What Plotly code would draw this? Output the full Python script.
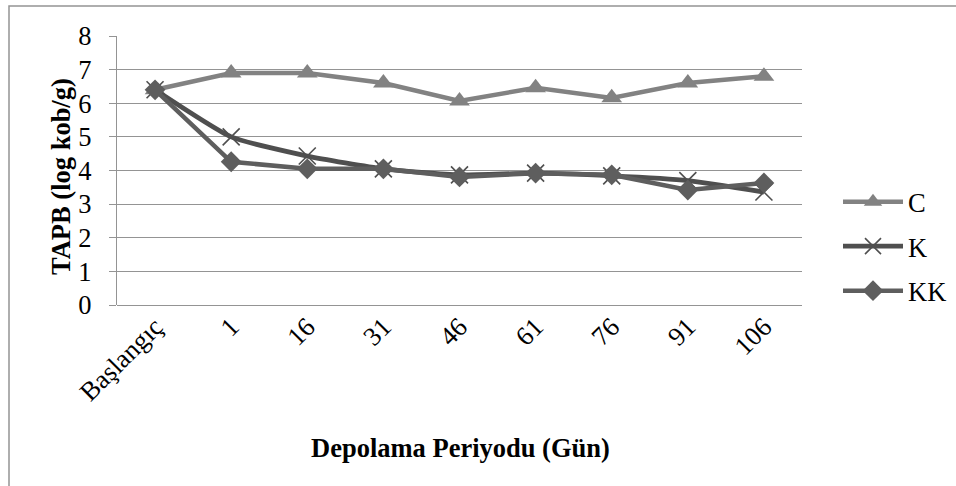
import plotly.graph_objects as go

categories = ["Başlangıç", "1", "16", "31", "46", "61", "76", "91", "106"]
C = [6.4, 6.9, 6.9, 6.6, 6.07, 6.46, 6.16, 6.6, 6.8]
K = [6.4, 5.0, 4.43, 4.05, 3.87, 3.92, 3.84, 3.7, 3.36]
KK = [6.4, 4.26, 4.05, 4.05, 3.81, 3.92, 3.87, 3.42, 3.63]
y_ticks = [0, 1, 2, 3, 4, 5, 6, 7, 8]

W, H = 956, 486
L, R, T, B = 117, 154, 36, 181
pw, ph = W - L - R, H - T - B

def px_x(x):
    return (x - L) / pw

def px_y(y):
    return (H - B - y) / ph

FONT = "Liberation Serif"
FS = 26.5

fig = go.Figure()
fig.add_trace(go.Scatter(
    x=categories, y=C, name="C", mode="lines+markers",
    line=dict(color="#828282", width=4.5),
    marker=dict(symbol="triangle-up", size=18, color="#828282"),
    legendgroup="a"))
fig.add_trace(go.Scatter(
    x=categories, y=K, name="K", mode="lines+markers",
    line=dict(color="#4f4f4f", width=4.8, shape="spline", smoothing=0.5),
    marker=dict(symbol="x-thin", size=17, color="#4f4f4f",
                line=dict(color="#4f4f4f", width=1.6)),
    legendgroup="b"))
fig.add_trace(go.Scatter(
    x=categories, y=KK, name="KK", mode="lines+markers",
    line=dict(color="#5e5e5e", width=4.5),
    marker=dict(symbol="diamond", size=16, color="#5e5e5e"),
    legendgroup="c"))

fig.update_layout(
    width=W, height=H,
    margin=dict(l=L, r=R, t=T, b=B, autoexpand=False),
    paper_bgcolor="white", plot_bgcolor="white",
    font=dict(family=FONT, size=FS, color="black"),
    showlegend=True,
    legend=dict(x=px_x(838), y=px_y(178), xanchor="left", yanchor="top",
                font=dict(family=FONT, size=FS, color="black"),
                tracegroupgap=7, itemwidth=60, bgcolor="rgba(0,0,0,0)"),
    xaxis=dict(type="category", tickangle=-45, showgrid=False,
               showline=False, ticks="", tickfont=dict(family=FONT, size=FS),
               range=[-0.5, 8.5], zeroline=False),
    yaxis=dict(range=[0, 8], tickvals=y_ticks, showgrid=True,
               gridcolor="#949494", gridwidth=1.3, showline=True,
               linecolor="#949494", linewidth=1.3, ticks="outside",
               ticklen=7, tickcolor="#949494", tickwidth=1.3,
               zeroline=True, zerolinecolor="#949494", zerolinewidth=1.3,
               tickfont=dict(family=FONT, size=FS), ticklabelstandoff=12),
    annotations=[
        dict(text="<b>TAPB (log kob/g)</b>", xref="paper", yref="paper",
             x=px_x(61), y=px_y(177), textangle=-90, showarrow=False,
             xanchor="center", yanchor="middle",
             font=dict(family=FONT, size=FS, color="black")),
        dict(text="<b>Depolama Periyodu (Gün)</b>", xref="paper", yref="paper",
             x=px_x(460), y=px_y(448), showarrow=False,
             xanchor="center", yanchor="middle",
             font=dict(family=FONT, size=FS, color="black")),
    ],
    shapes=[dict(type="rect", xref="paper", yref="paper",
                 x0=px_x(9), x1=px_x(1010), y0=px_y(6), y1=px_y(520),
                 line=dict(color="#949494", width=1.5))],
)

fig.write_html("out.html")
